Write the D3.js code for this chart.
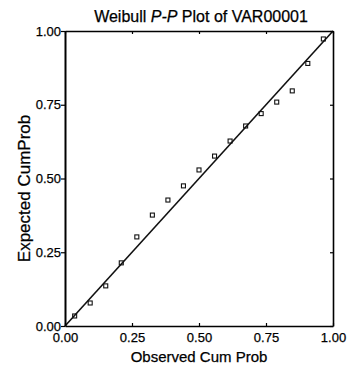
<!DOCTYPE html>
<html>
<head>
<meta charset="utf-8">
<script src="https://cdn.jsdelivr.net/npm/d3@7"></script>
<style>
  body { margin: 0; background: #fff; }
  text { font-family: "Liberation Sans", Arial, sans-serif; fill: #000; stroke: #000; stroke-width: 0.25px; }
</style>
</head>
<body>
<svg id="chart"></svg>
<script>
// observed cumulative probability (x) and expected cumulative probability (y)
const observed = [0.036, 0.094, 0.152, 0.210, 0.268, 0.326, 0.384, 0.442, 0.500,
  0.558, 0.616, 0.674, 0.732, 0.790, 0.848, 0.906, 0.964];
const expected = [0.034, 0.078, 0.136, 0.214, 0.302, 0.376, 0.427, 0.475, 0.529,
  0.576, 0.627, 0.678, 0.720, 0.759, 0.797, 0.890, 0.973];
const ticks = [0, 0.25, 0.5, 0.75, 1];
const tickLabels = ["0.00", "0.25", "0.50", "0.75", "1.00"];

const width = 358, height = 371;
const margin = { top: 31, right: 25, bottom: 45, left: 65 };

const svg = d3.select("#chart")
  .attr("width", width)
  .attr("height", height);

const X = d3.scaleLinear().domain([0, 1]).range([margin.left, width - margin.right]);
const Y = d3.scaleLinear().domain([0, 1]).range([height - margin.bottom, margin.top]);

const pts = observed.map((o, i) => ({ x: o, y: expected[i] }));

// reference line
svg.append("line")
  .attr("x1", X(0)).attr("y1", Y(0))
  .attr("x2", X(1)).attr("y2", Y(1))
  .style("stroke", "#111")
  .style("stroke-width", 1.6);

// markers
svg.append("g")
  .selectAll("rect")
  .data(pts)
  .join("rect")
  .attr("x", (d) => X(d.x) - 2)
  .attr("y", (d) => Y(d.y) - 2)
  .attr("width", 4)
  .attr("height", 4)
  .style("fill", "none")
  .style("stroke", "#111")
  .style("stroke-width", 1.1);

// axes
const fmt = (d) => tickLabels[ticks.indexOf(d)];

const yAxis = svg.append("g")
  .attr("transform", `translate(${X(0)},0)`)
  .call(d3.axisLeft(Y).tickValues(ticks).tickFormat(fmt).tickSizeInner(4).tickSizeOuter(0));
yAxis.select(".domain").style("stroke-width", 2);
yAxis.selectAll("text").style("font-size", "13px").attr("x", -4);

const xAxis = svg.append("g")
  .attr("transform", `translate(0,${Y(0)})`)
  .call(d3.axisBottom(X).tickValues(ticks).tickFormat(fmt).tickSizeInner(-3).tickSizeOuter(0));
xAxis.select(".domain").style("stroke-width", 1.6);
xAxis.selectAll("text").style("font-size", "13px").attr("y", 7);

const yRight = svg.append("g")
  .attr("transform", `translate(${X(1)},0)`)
  .call(d3.axisRight(Y).tickValues(ticks).tickFormat("").tickSizeInner(-3).tickSizeOuter(0));
yRight.select(".domain").style("stroke-width", 1.6);

const xTop = svg.append("g")
  .attr("transform", `translate(0,${Y(1)})`)
  .call(d3.axisTop(X).tickValues(ticks).tickFormat("").tickSizeInner(-3).tickSizeOuter(0));
xTop.select(".domain").style("stroke-width", 1.6);

svg.selectAll(".tick line").style("stroke-width", 1.2);

// title
const title = svg.append("text")
  .attr("x", (X(0) + X(1)) / 2 + 2)
  .attr("y", 22)
  .attr("text-anchor", "middle")
  .style("font-size", "16px");
title.append("tspan").text("Weibull ");
title.append("tspan").style("font-style", "italic").text("P-P");
title.append("tspan").text(" Plot of VAR00001");

// axis titles
svg.append("text")
  .attr("x", (X(0) + X(1)) / 2)
  .attr("y", 362)
  .attr("text-anchor", "middle")
  .style("font-size", "15px")
  .text("Observed Cum Prob");

svg.append("text")
  .attr("transform", `translate(30,${(Y(0) + Y(1)) / 2 + 10}) rotate(-90)`)
  .attr("text-anchor", "middle")
  .style("font-size", "17px")
  .text("Expected CumProb");
</script>
</body>
</html>
